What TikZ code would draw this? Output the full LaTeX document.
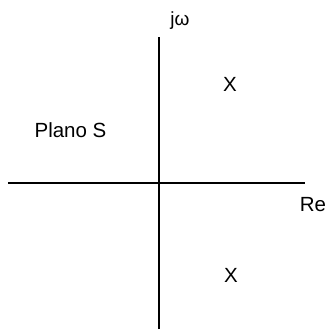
\documentclass[tikz,border=0pt]{standalone}
\usepackage{fontspec}
\setmainfont{Liberation Sans}
\usetikzlibrary{positioning}

\begin{document}
\begin{tikzpicture}[x=1pt, y=-1pt, font=\fontsize{20.5}{24}\selectfont,
        eje/.style={line width=1.6pt, black},
        rotulo/.style={inner sep=0pt, anchor=base},
        polo/.style={inner sep=0pt, anchor=base}]
    \useasboundingbox (0,0) rectangle (327,333);
    % ejes
    \coordinate (izq) at (8,183);
    \coordinate (der) at (305,183);
    \coordinate (arr) at (159,37);
    \coordinate (abj) at (159,329);
    \draw[eje] (izq) -- (der);
    \draw[eje] (abj) -- (arr);
    % rotulos
    \node[rotulo, font=\fontsize{19}{22}\selectfont] (jw) at (180,25) {jω};
    \node[rotulo] (re) at (313,211) {Re};
    \node[rotulo] (plano) at (70.5,137.5) {Plano S};
    % polos
    \node[polo] (p1) at (230,91) {X};
    \node[polo] (p2) at (231,282) {X};
\end{tikzpicture}
\end{document}
